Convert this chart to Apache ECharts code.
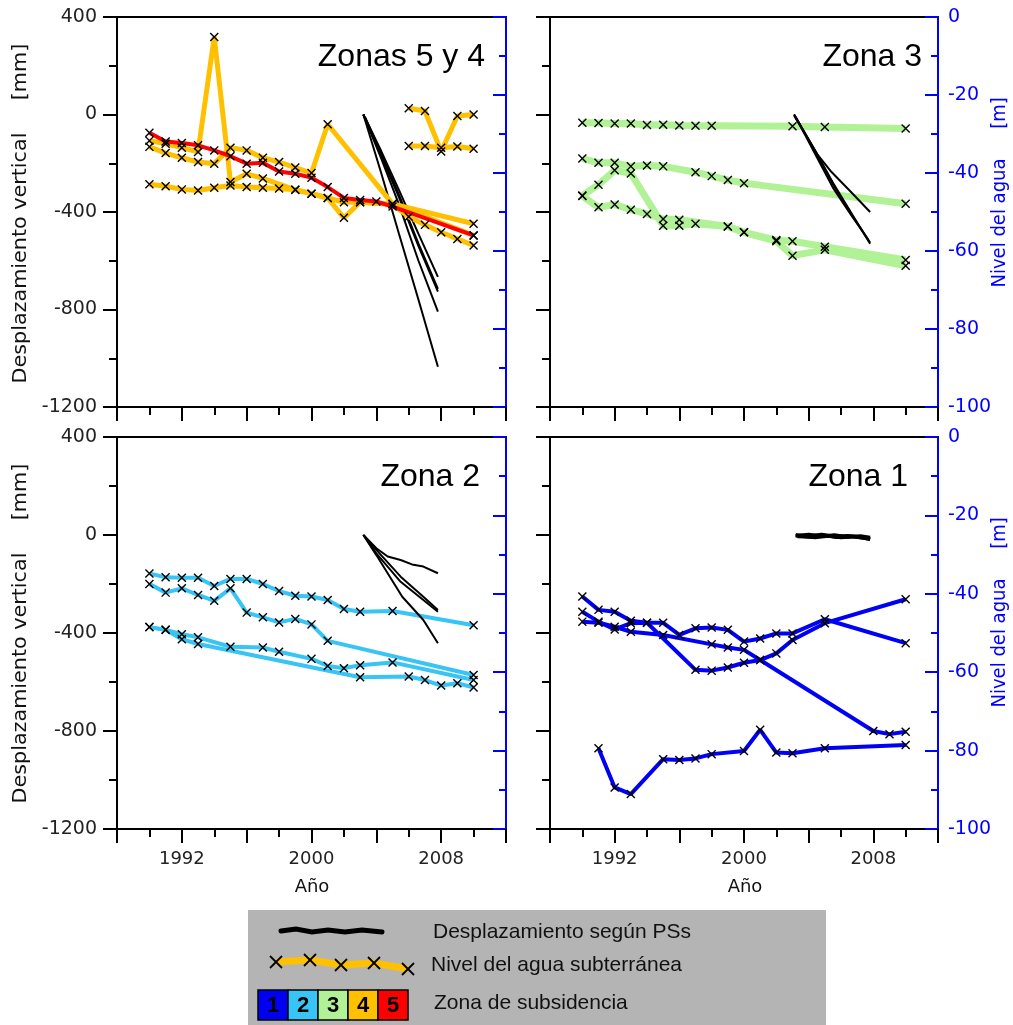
<!DOCTYPE html>
<html>
<head>
<meta charset="utf-8">
<script src="https://cdn.jsdelivr.net/npm/echarts@6/dist/echarts.min.js"></script>
<style>
  html, body { margin: 0; padding: 0; background: #fff; }
  #main { width: 1013px; height: 1025px; }
</style>
</head>
<body>
<div id="main"></div>
<script>
// etiquetas del eje X
const yearLabels = [1992, 2000, 2008];

// ---- Zonas 5 y 4: nivel del agua [m] ----
const zona5 = [[1990,-29.7],[1991,-31.9],[1992,-32.3],[1993,-32.9],[1994,-34.2],[1995,-35.7],[1996,-37.6],[1997,-37.4],[1998,-39.6],[1999,-40.2],[2000,-41.2],[2001,-43.6],[2002,-46.4],[2003,-46.9],[2004,-47.3],[2005,-48.6],[2010,-56.0]];
const zona4a = [[1990,-31.7],[1991,-32.5],[1992,-33.5],[1993,-34.6],[1994,-5.1],[1995,-42.3],[1996,-40.2],[1997,-41.4],[1999,-44.3],[2000,-45.3],[2001,-46.4],[2002,-51.5],[2003,-47.5],[2005,-48.0],[2010,-56.0]];
const zona4b = [[1990,-33.3],[1991,-34.9],[1992,-36.1],[1993,-37.2],[1994,-37.6],[1995,-33.5],[1996,-34.2],[1997,-36.1],[1998,-37.2],[1999,-38.6],[2000,-40.0],[2001,-27.5],[2005,-47.9],[2010,-53.0]];
const zona4c = [[1990,-42.9],[1991,-43.4],[1992,-44.2],[1993,-44.5],[1994,-43.8],[1995,-43.2],[1996,-43.6],[1997,-43.8],[1998,-44.0],[1999,-44.3],[2000,-45.3],[2001,-46.4],[2002,-47.5],[2003,-47.5],[2005,-48.0],[2006,-51.2],[2007,-53.3],[2008,-55.2],[2009,-56.9],[2010,-58.6]];
const zona4d = [[2006,-23.4],[2007,-24.1],[2008,-34.5],[2009,-25.4],[2010,-25.0]];
const zona4e = [[2006,-33.1],[2007,-33.1],[2008,-33.5],[2009,-33.2],[2010,-33.8]];
// desplazamiento PS [mm]
const ps54 = [
  [[2003.2,0],[2004.3,-240],[2005.4,-490],[2006.6,-760],[2007.8,-1035]],
  [[2003.2,0],[2004.3,-180],[2005.4,-370],[2006.6,-600],[2007.8,-809]],
  [[2003.2,0],[2004.3,-170],[2005.4,-340],[2006.6,-540],[2007.8,-727]],
  [[2003.3,-10],[2004.3,-160],[2005.4,-330],[2006.6,-530],[2007.8,-715]],
  [[2003.2,0],[2004.3,-150],[2005.4,-310],[2006.6,-490],[2007.8,-666]]
];

// ---- Zona 3 ----
const zona3a = [[1990,-27.1],[1991,-27.2],[1992,-27.3],[1993,-27.3],[1994,-27.7],[1995,-27.6],[1996,-27.8],[1997,-27.9],[1998,-27.9],[2003,-28.0],[2005,-28.2],[2010,-28.6]];
const zona3b = [[1990,-36.3],[1991,-37.4],[1992,-37.4],[1993,-38.3],[1994,-38.1],[1995,-38.3],[1997,-39.8],[1998,-40.8],[1999,-41.8],[2000,-42.6],[2010,-47.9]];
const zona3c = [[1990,-45.8],[1991,-43.0],[1992,-39.3],[1993,-40.1],[1995,-53.5],[1996,-53.5],[1997,-53.0],[1999,-53.7],[2000,-55.2],[2002,-57.2],[2003,-57.5],[2005,-58.9],[2010,-62.3]];
const zona3d = [[1990,-45.9],[1991,-48.8],[1992,-48.1],[1993,-49.4],[1994,-50.5],[1995,-51.8],[1996,-52.0],[1999,-53.7],[2000,-55.2],[2002,-57.5],[2003,-61.2],[2005,-59.7],[2010,-63.8]];
const ps3 = [
  [[2003.1,0],[2004.5,-160],[2005.4,-235],[2006.5,-310],[2007.8,-400]],
  [[2003.1,0],[2004.5,-160],[2005.5,-280],[2006.6,-400],[2007.8,-530]],
  [[2003.2,-10],[2004.5,-175],[2005.5,-300],[2006.6,-410],[2007.7,-515]],
  [[2003.1,-5],[2004.4,-150],[2005.5,-285],[2006.7,-415],[2007.8,-525]]
];

// ---- Zona 2 ----
const zona2a = [[1990,-34.8],[1991,-35.8],[1992,-35.9],[1993,-35.9],[1994,-38.0],[1995,-36.2],[1996,-36.2],[1997,-37.5],[1998,-39.3],[1999,-40.5],[2000,-40.7],[2001,-41.6],[2002,-43.9],[2003,-44.6],[2005,-44.4],[2010,-48.0]];
const zona2b = [[1990,-37.5],[1991,-39.7],[1992,-38.6],[1993,-40.3],[1994,-41.8],[1995,-38.6],[1996,-44.8],[1997,-46.0],[1998,-47.3],[1999,-46.4],[2000,-47.8],[2001,-52.0],[2010,-60.7]];
const zona2c = [[1990,-48.5],[1991,-49.2],[1992,-50.3],[1993,-51.1],[1995,-53.5],[1997,-53.7],[1998,-54.8],[2000,-56.6],[2001,-58.4],[2002,-59.0],[2003,-58.2],[2005,-57.5],[2010,-62.0]];
const zona2d = [[1990,-48.5],[1991,-49.2],[1992,-51.6],[1993,-52.8],[2003,-61.3],[2006,-61.1],[2007,-62.0],[2008,-63.4],[2009,-62.8],[2010,-63.9]];
const ps2 = [
  [[2003.2,0],[2004.0,-54],[2004.7,-88],[2005.5,-102],[2006.2,-120],[2006.9,-129],[2007.8,-156]],
  [[2003.2,0],[2004.0,-61],[2005.5,-170],[2006.9,-252],[2007.8,-306]],
  [[2003.2,0],[2004.0,-75],[2005.5,-191],[2006.9,-265],[2007.8,-313]],
  [[2003.2,0],[2004.0,-82],[2005.6,-252],[2006.9,-347],[2007.8,-442]]
];

// ---- Zona 1 ----
const zona1a = [[1990,-40.7],[1991,-44.1],[1992,-44.6],[1993,-46.9],[1994,-47.4],[1995,-47.4],[1996,-50.5],[1997,-48.8],[1998,-48.6],[1999,-49.2],[2000,-52.2],[2001,-51.4],[2002,-50.1],[2003,-50.1],[2005,-46.5],[2010,-52.6]];
const zona1b = [[1990,-44.6],[1991,-47.1],[1992,-49.1],[1993,-47.5],[1994,-47.4],[1997,-59.4],[1998,-59.6],[1999,-58.8],[2000,-57.6],[2001,-56.9],[2002,-55.2],[2003,-51.8],[2005,-47.5],[2010,-41.4]];
const zona1c = [[1990,-47.1],[1991,-47.4],[1992,-48.4],[1993,-49.7],[1995,-50.5],[1998,-52.9],[1999,-53.7],[2000,-54.3],[2001,-56.9],[2008,-75.0],[2009,-75.8],[2010,-75.2]];
const zona1d = [[1991,-79.4],[1992,-89.4],[1993,-91.1],[1995,-82.2],[1996,-82.4],[1997,-82.0],[1998,-80.9],[2000,-80.1],[2001,-74.7],[2002,-80.5],[2003,-80.7],[2005,-79.4],[2010,-78.6]];
const ps1 = [
  [[2003.2,0],[2004.0,-4],[2004.8,2],[2005.6,-6],[2006.4,-3],[2007.2,-8],[2007.8,-14]],
  [[2003.2,-3],[2004.0,2],[2004.8,-5],[2005.6,0],[2006.4,-8],[2007.2,-4],[2007.8,-10]],
  [[2003.3,-6],[2004.2,-8],[2005.0,-2],[2005.8,-9],[2006.6,-5],[2007.4,-12],[2007.8,-17]],
  [[2003.2,-2],[2004.4,-10],[2005.2,-4],[2006.0,-10],[2006.8,-6],[2007.6,-14],[2007.8,-18]]
];

const colZ = ['#0000f5', '#38c4f4', '#b2f296', '#ffc000', '#ff0000'];
const blue = '#0000ff';
const X = 'path://M0,1.1L1.1,0L10,8.9L8.9,10Z M8.9,0L10,1.1L1.1,10L0,8.9Z';

const grids = [
  { left: 117, top: 17, width: 389, height: 390 },
  { left: 550, top: 17, width: 388, height: 390 },
  { left: 117, top: 437, width: 389, height: 392 },
  { left: 550, top: 437, width: 388, height: 392 }
];

const xAxes = [], yAxes = [];
grids.forEach(function (g, i) {
  const rightCol = i % 2 === 1;
  const bottomRow = i >= 2;
  xAxes.push({
    gridIndex: i, type: 'value', min: 1988, max: 2012, interval: 4,
    axisLine: { onZero: false, lineStyle: { color: '#000', width: 2 } },
    axisTick: { length: 14, lineStyle: { color: '#000', width: 2 } },
    minorTick: { show: true, splitNumber: 2, length: 8, lineStyle: { color: '#000', width: 2 } },
    splitLine: { show: false }, minorSplitLine: { show: false },
    axisLabel: { show: bottomRow, margin: 21, fontSize: 18, fontFamily: 'DejaVu Sans', color: '#222',
      formatter: function (v) { return yearLabels.indexOf(v) >= 0 ? String(v) : ''; } }
  });
  xAxes.push({
    gridIndex: i, type: 'value', position: 'top', min: 1988, max: 2012,
    axisLine: { onZero: false, lineStyle: { color: '#000', width: 2 } },
    axisTick: { show: false }, axisLabel: { show: false }, splitLine: { show: false }
  });
  yAxes.push({
    gridIndex: i, type: 'value', position: 'left', min: -1200, max: 400, interval: 400,
    axisLine: { show: true, onZero: false, lineStyle: { color: '#000', width: 2 } },
    axisTick: { show: true, length: 14, lineStyle: { color: '#000', width: 2 } },
    minorTick: { show: true, splitNumber: 2, length: 8, lineStyle: { color: '#000', width: 2 } },
    splitLine: { show: false },
    axisLabel: { show: !rightCol, margin: 20, fontSize: 19, fontFamily: 'DejaVu Sans', color: '#222',
      formatter: function (v) { return String(v); } }
  });
  yAxes.push({
    gridIndex: i, type: 'value', position: 'right', min: -100, max: 0, interval: 20,
    axisLine: { show: true, onZero: false, lineStyle: { color: blue, width: 2 } },
    axisTick: { show: true, inside: true, length: 13, lineStyle: { color: blue, width: 2 } },
    minorTick: { show: true, splitNumber: 2, length: 7, lineStyle: { color: blue, width: 2 } },
    splitLine: { show: false },
    axisLabel: { show: rightCol, margin: 10, fontSize: 19, fontFamily: 'DejaVu Sans', color: blue,
      formatter: function (v) { return String(v); } }
  });
});

function nivel(data, g, color, w) {
  return {
    type: 'line', xAxisIndex: 2 * g, yAxisIndex: 2 * g + 1, data: data,
    symbol: X, symbolSize: 9, showAllSymbol: true,
    lineStyle: { color: color, width: w }, itemStyle: { color: '#000' },
    z: 3, silent: true
  };
}
function ps(data, g, z) {
  return {
    type: 'line', xAxisIndex: 2 * g, yAxisIndex: 2 * g, data: data,
    symbol: 'none', lineStyle: { color: '#000', width: g === 3 ? 3.5 : 2 },
    z: z, silent: true
  };
}

const series = [];
ps54.forEach(function (d) { series.push(ps(d, 0, 2)); });
[zona4a, zona4b, zona4c, zona4d, zona4e].forEach(function (d) { series.push(nivel(d, 0, colZ[3], 5)); });
series.push(nivel(zona5, 0, colZ[4], 4));
[zona3a, zona3b, zona3c, zona3d].forEach(function (d) { series.push(nivel(d, 1, colZ[2], 7)); });
ps3.forEach(function (d) { series.push(ps(d, 1, 4)); });
[zona2a, zona2b, zona2c, zona2d].forEach(function (d) { series.push(nivel(d, 2, colZ[1], 4)); });
ps2.forEach(function (d) { series.push(ps(d, 2, 4)); });
[zona1a, zona1b, zona1c, zona1d].forEach(function (d) { series.push(nivel(d, 3, colZ[0], 4)); });
ps1.forEach(function (d) { series.push(ps(d, 3, 4)); });

// textos y leyenda
const graphic = [];
function txt(x, y, text, opts) {
  graphic.push(Object.assign({
    type: 'text', x: x, y: y,
    style: Object.assign({ text: text, fill: '#111', font: '18px "DejaVu Sans"', textAlign: 'center', textVerticalAlign: 'middle' }, opts.style || {})
  }, opts.el || {}));
}
const titles = [['Zonas 5 y 4', 485, 57], ['Zona 3', 922, 57], ['Zona 2', 480, 477], ['Zona 1', 908, 477]];
titles.forEach(function (t) {
  txt(t[1], t[2], t[0], { style: { font: '32px "Liberation Sans"', textAlign: 'right', fill: '#000' } });
});
const vert = { rotation: Math.PI / 2, scaleX: 1.15 };
[0, 420].forEach(function (dy) {
  txt(21, 258 + dy, 'Desplazamiento vertical', { style: { font: '20px "DejaVu Sans Condensed"' }, el: vert });
  txt(21, 72 + dy, '[mm]', { style: { font: '20px "DejaVu Sans Condensed"' }, el: vert });
  txt(1000, 223 + dy, 'Nivel del agua', { style: { font: '20px "DejaVu Sans Condensed"', fill: blue }, el: { rotation: Math.PI / 2 } });
  txt(1000, 113 + dy, '[m]', { style: { font: '20px "DejaVu Sans Condensed"', fill: blue }, el: { rotation: Math.PI / 2 } });
});
txt(312, 887, 'Año', {});
txt(745, 887, 'Año', {});

// leyenda
graphic.push({ type: 'rect', shape: { x: 248, y: 910, width: 578, height: 115 }, style: { fill: '#b4b4b4' }, z: 0 });
graphic.push({ type: 'polyline', shape: { points: [[281,931],[296,929],[312,932],[328,930],[345,932],[362,930],[382,932]] },
  style: { stroke: '#000', lineWidth: 5, lineCap: 'round', fill: null } });
const legPts = [[276,962],[310,960],[341,965],[374,963],[408,969]];
graphic.push({ type: 'polyline', shape: { points: legPts }, style: { stroke: colZ[3], lineWidth: 7, fill: null } });
legPts.forEach(function (p) {
  graphic.push({ type: 'polyline', shape: { points: [[p[0]-6,p[1]-6],[p[0]+6,p[1]+6]] }, style: { stroke: '#000', lineWidth: 1.8, fill: null } });
  graphic.push({ type: 'polyline', shape: { points: [[p[0]+6,p[1]-6],[p[0]-6,p[1]+6]] }, style: { stroke: '#000', lineWidth: 1.8, fill: null } });
});
colZ.forEach(function (c, i) {
  graphic.push({ type: 'rect', shape: { x: 258 + i * 30, y: 990, width: 30, height: 30 }, style: { fill: c, stroke: '#000', lineWidth: 1.5 } });
  txt(273 + i * 30, 1006, String(i + 1), { style: { font: 'bold 22px "Liberation Sans"', fill: '#000' } });
});
txt(433, 932, 'Desplazamiento según PSs', { style: { font: '21px "Liberation Sans"', textAlign: 'left' } });
txt(431, 965, 'Nivel del agua subterránea', { style: { font: '21px "Liberation Sans"', textAlign: 'left' } });
txt(434, 1003, 'Zona de subsidencia', { style: { font: '21px "Liberation Sans"', textAlign: 'left' } });

const chart = echarts.init(document.getElementById('main'));
chart.setOption({
  animation: false,
  backgroundColor: '#fff',
  grid: grids.map(function (g) { return Object.assign({ containLabel: false, outerBoundsMode: 'none' }, g); }),
  xAxis: xAxes,
  yAxis: yAxes,
  series: series,
  graphic: graphic
});
</script>
</body>
</html>
